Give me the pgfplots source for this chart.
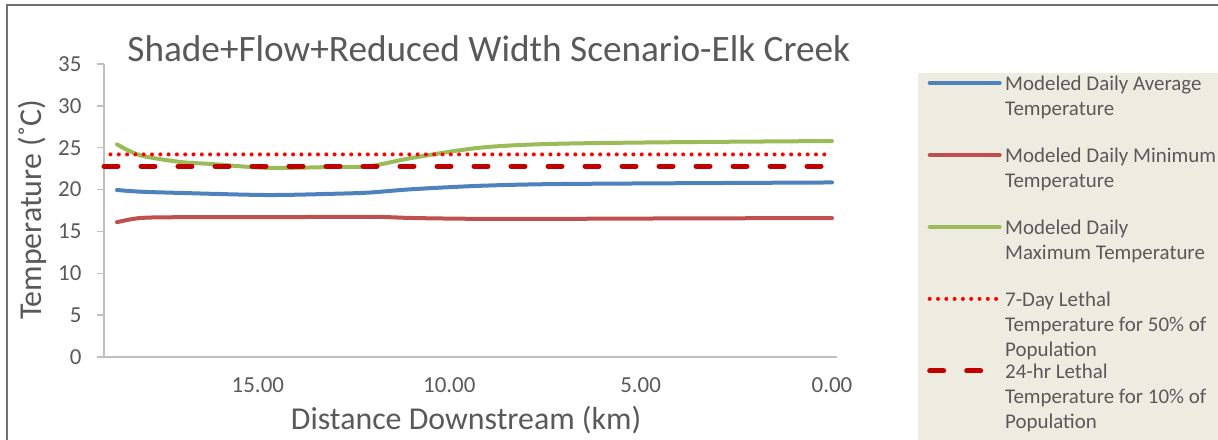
\documentclass[border=0pt]{standalone}
\usepackage{fontspec}
\setmainfont{Carlito}
\usepackage{pgfplots}
\pgfplotsset{compat=1.18}
\definecolor{txt}{HTML}{595959}
\definecolor{avgc}{HTML}{4F81BD}
\definecolor{minc}{HTML}{C0504D}
\definecolor{maxc}{HTML}{9BBB59}
\definecolor{ltseven}{HTML}{FF0000}
\definecolor{lttwentyfour}{HTML}{C00000}
\definecolor{legbg}{HTML}{EEECE1}
\definecolor{axc}{HTML}{BFBFBF}
\definecolor{frm}{HTML}{707070}
\newcommand{\LE}[1]{\begin{tabular}[t]{@{}l@{}}#1\end{tabular}}
\begin{document}
\begin{tikzpicture}[x=1bp,y=1bp]
\useasboundingbox (0,0) rectangle (1218,-440);
\clip (0,0) rectangle (1218,-440);
\fill[white] (0,0) rectangle (1218,-440);
\draw[frm, line width=2bp] (7,-5) rectangle (1240,-460);
\begin{axis}[
  at={(104bp,-357bp)}, anchor=south west,
  width=733bp, height=293bp, scale only axis,
  xmin=-0.13, xmax=19.02, x dir=reverse,
  ymin=0, ymax=35,
  ytick={0,5,...,35},
  xtick={0,5,10,15},
  axis x line*=bottom, axis y line*=left,
  axis line style={axc, line width=1.3bp, -},
  tick align=outside,
  major tick length=7bp,
  xtick style={draw=none},
  ytick style={axc, line width=1.3bp},
  /pgf/number format/assume math mode=true,
  tick label style={font=\fontsize{23}{27}\selectfont, text=txt},
  xticklabel style={yshift=-10bp},
  yticklabel style={xshift=-12bp},
  xticklabel={\pgfmathprintnumber[fixed,fixed zerofill,precision=2]{\tick}},
  xlabel={Distance Downstream (km)},
  ylabel={Temperature (˚C)},
  xlabel style={font=\fontsize{32}{36}\selectfont, text=txt, at={(axis description cs:0.494,-0.215)}, anchor=center},
  ylabel style={font=\fontsize{32}{36}\selectfont, text=txt, at={(axis description cs:-0.098,0.502)}, anchor=center, rotate=0},
  title={Shade+Flow+Reduced Width Scenario-Elk Creek},
  title style={font=\fontsize{37.4}{40}\selectfont, text=txt, at={(axis description cs:0.525,1.031)}, anchor=center},
  legend style={at={(axis description cs:1.1105,0.9693)}, anchor=north west,
    fill=legbg, draw=none, inner xsep=9bp, inner ysep=7bp, row sep=0pt, column sep=3bp,
    font=\fontsize{21}{25}\selectfont, text=txt,
    cells={anchor=base west},
    nodes={inner sep=0pt, text height=10bp, text depth=62bp}},
  legend image code/.code={\draw[#1] (0bp,7.3bp) -- (70bp,7.3bp);},
  clip=false,
]
\addplot[avgc, line width=4bp, smooth, tension=0.5, line cap=round] coordinates {
(18.68,19.95) (18.08,19.75) (17.03,19.6) (14.76,19.35) (13.0,19.5) (12.07,19.65) (10.95,20.05) (9.2,20.45) (7.37,20.65) (4.31,20.75) (0,20.85)};
\addlegendentry{\LE{Modeled Daily Average\\Temperature}}
\addplot[minc, line width=4bp, smooth, tension=0.5, line cap=round] coordinates {
(18.68,16.1) (18.08,16.6) (17.03,16.7) (14.76,16.7) (12.07,16.75) (10.95,16.6) (9.2,16.5) (7.37,16.5) (4.31,16.55) (0,16.6)};
\addlegendentry{\LE{Modeled Daily Minimum\\Temperature}}
\addplot[maxc, line width=4bp, smooth, tension=0.5, line cap=round] coordinates {
(18.68,25.4) (18.08,24.1) (17.03,23.3) (16.2,23.05) (14.76,22.6) (13.0,22.7) (12.07,22.8) (10.95,23.8) (9.2,25.0) (7.37,25.45) (4.31,25.65) (0,25.8)};
\addlegendentry{\LE{Modeled Daily\\Maximum Temperature}}
\addplot[ltseven, line width=4bp, line cap=round, dash pattern=on 0bp off 8.3bp] coordinates {(18.85,24.2) (0,24.2)};
\addlegendentry{\LE{7-Day Lethal\\Temperature for 50\% of\\Population}}
\addplot[lttwentyfour, line width=5bp, line cap=round, dash pattern=on 14bp off 23bp] coordinates {(19.02,22.8) (0,22.8)};
\addlegendentry{\LE{24-hr Lethal\\Temperature for 10\% of\\Population}}
\end{axis}
\end{tikzpicture}
\end{document}
